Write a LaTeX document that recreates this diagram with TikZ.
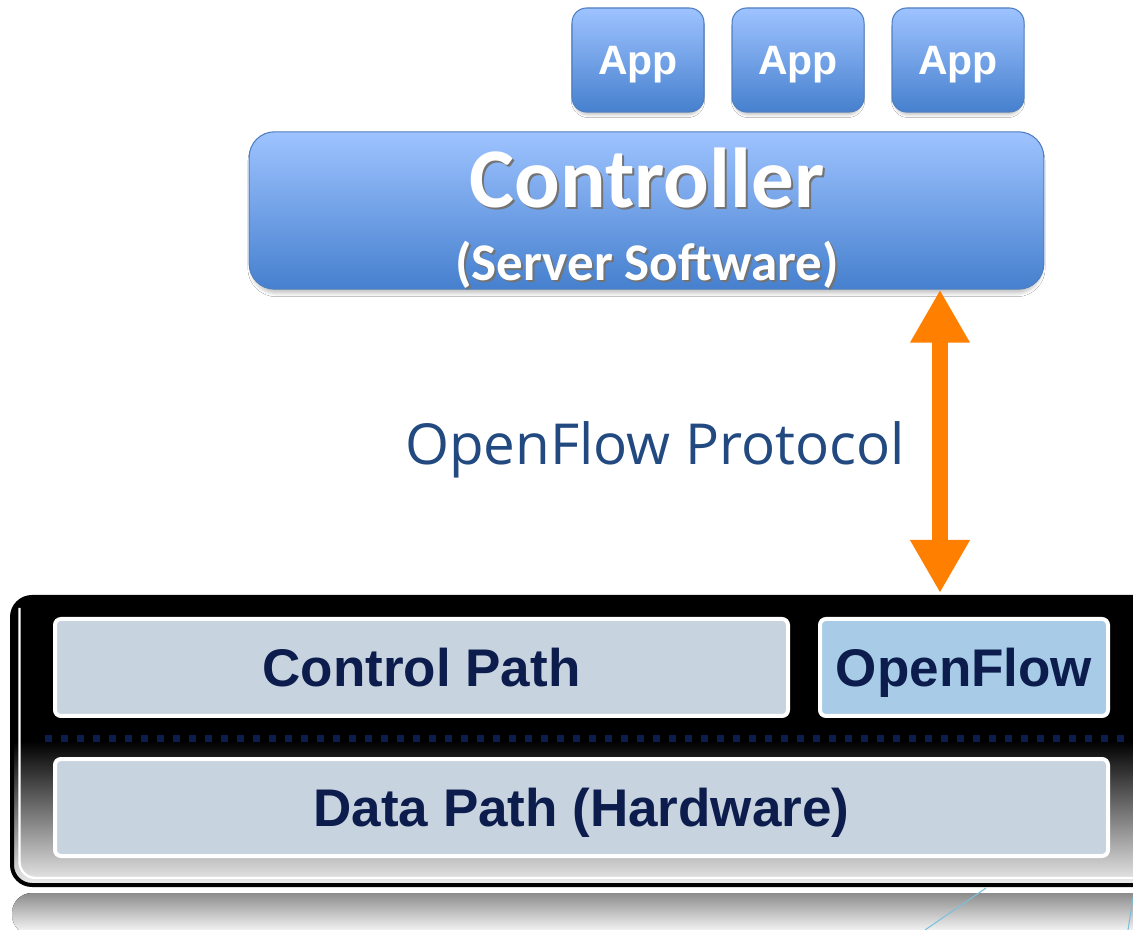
\documentclass[tikz,border=0pt]{standalone}
\usepackage{fontspec}
\setmainfont{Liberation Sans}
\newfontfamily\calibri{Carlito}
\newfontfamily\opensans{Open Sans}
\usetikzlibrary{positioning,arrows.meta,shadows.blur}

\definecolor{appTop}{HTML}{9EC3FF}
\definecolor{appBot}{HTML}{4680CE}
\definecolor{appEdge}{HTML}{4F7FBF}
\definecolor{pathFill}{HTML}{C8D3E0}
\definecolor{flowFill}{HTML}{A8CCE8}
\definecolor{navy}{HTML}{0C1C4C}
\definecolor{protoBlue}{HTML}{224A80}
\definecolor{flowOrange}{HTML}{FF7F00}
\definecolor{glint}{HTML}{7CC0DA}

% white lettering with a dark drop shadow
\newcommand{\shadowed}[1]{\rlap{\kern1.5pt\raisebox{-1.5pt}{\textcolor{black!55}{#1}}}#1}

\begin{document}
\begin{tikzpicture}[
  x=0.75pt, y=-0.75pt,
  app/.style={draw=appEdge, line width=0.8pt, rounded corners=11pt,
              top color=appTop, bottom color=appBot,
              minimum width=99pt, minimum height=78pt, text=white, text depth=0pt,
              font=\bfseries\fontsize{30.75}{36}\selectfont,
              blur shadow={shadow xshift=0pt, shadow yshift=-3.5pt, shadow scale=0.97,
                           shadow blur radius=2pt, shadow opacity=22}},
  ctrlbox/.style={draw=appEdge, line width=0.8pt, rounded corners=19pt,
              top color=appTop, bottom color=appBot,
              minimum width=596pt, minimum height=118pt,
              blur shadow={shadow xshift=0pt, shadow yshift=-3.5pt, shadow scale=0.995,
                           shadow blur radius=2.5pt, shadow opacity=22}},
  ctrltxt/.style={text=white, anchor=base, inner sep=0pt},
  stage/.style={draw=white, line width=3pt, rounded corners=4.5pt,
              fill=pathFill, text=navy, minimum height=72.75pt, text depth=0pt,
              font=\bfseries\fontsize{39.75}{44}\selectfont},
  sep/.style={navy, line width=5.25pt, dash pattern=on 5.25pt off 6.75pt},
  proto/.style={text=protoBlue, anchor=base, inner sep=0pt,
              font=\opensans\fontsize{42.4}{48}\selectfont},
  link/.style={flowOrange, line width=12pt,
              {Triangle[length=39.75pt 0, width=42pt 0]}-{Triangle[length=39.75pt 0, width=42pt 0]}},
]
  \useasboundingbox (0,0) rectangle (1133,930);
  \clip (0,0) rectangle (1133,930);
  \fill[white] (0,0) rectangle (1133,930);

  % applications on top of the controller
  \node[app] (app1) at (638,60) {App};
  \node[app, right=20.25pt of app1] (app2) {App};
  \node[app, right=20.25pt of app2] (app3) {App};

  % controller
  \node[ctrlbox] (ctrl) at (646.5,210.5) {};
  \node[ctrltxt, font=\calibri\bfseries\fontsize{63.75}{70}\selectfont]
    (ctrlname) at (647,208) {\shadowed{Controller}};
  \node[ctrltxt, font=\calibri\bfseries\fontsize{39.75}{44}\selectfont]
    (ctrlrole) at (647,281) {\shadowed{(Server Software)}};

  % switch: black frame fading to white
  \draw[black, line width=3pt, rounded corners=15pt,
        top color=black, bottom color=white!93!black, middle color=black]
    (12,597) rectangle (1170,885);
  \draw[white, line width=1.8pt, rounded corners=12pt]
    (19.5,608) -- (19.5,878) -- (1170,878);
  \node[stage, minimum width=549.75pt] (ctrlpath) at (421.5,667.5) {Control Path};
  \node[stage, fill=flowFill, minimum width=216pt] (ofbox) at (964,667.5) {OpenFlow};
  \node[stage, minimum width=789.75pt] (datapath) at (581.5,807.5) {Data Path (Hardware)};
  \draw[sep] (45,738) -- (1133,738);

  % reflection under the switch
  \fill[rounded corners=15pt, top color=black!45, bottom color=white]
    (12,893) rectangle (1170,935);
  \draw[glint, line width=0.8pt] (986,888) -- (925,930);
  \draw[glint, line width=0.8pt] (1133,898) -- (1128,930);

  % protocol between controller and switch
  \coordinate (ofTip) at (940,593);
  \draw[link] (ofTip |- ctrl.south) -- (ofTip);
  \node[proto] (protolabel) at (655,465) {OpenFlow Protocol};
\end{tikzpicture}
\end{document}
